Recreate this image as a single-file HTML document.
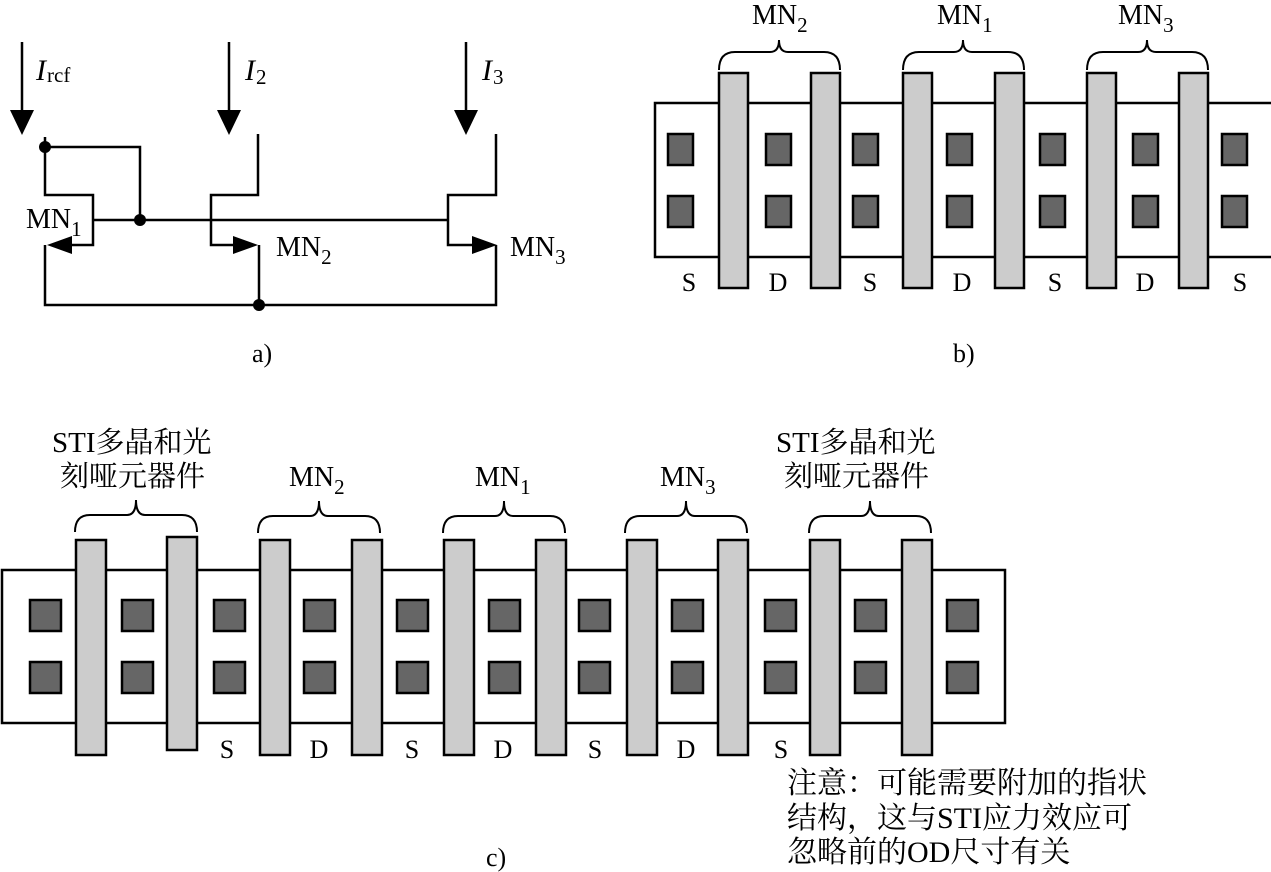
<!DOCTYPE html>
<html><head><meta charset="utf-8"><style>
html,body{margin:0;padding:0;background:#fff;width:1271px;height:872px;overflow:hidden}
text{font-family:"Liberation Serif","Noto Serif CJK SC",serif;fill:#000}
.cn{font-family:"Liberation Serif","Noto Serif CJK SC","Noto Sans CJK SC",serif}
</style></head><body>
<svg width="1271" height="872" xmlns="http://www.w3.org/2000/svg">
<g stroke="#000" stroke-width="2.5" fill="none">
<line x1="22" y1="42" x2="22" y2="110"/>
<line x1="229" y1="42" x2="229" y2="110"/>
<line x1="466" y1="42" x2="466" y2="110"/>
<polyline points="45,137 45,195 93,195 93,245 60,245"/>
<polyline points="45,147 140,147 140,220"/>
<line x1="93" y1="220" x2="448" y2="220"/>
<polyline points="45,245 45,305 496,305 496,245"/>
<polyline points="258,134 258,195 211,195 211,245 245,245"/>
<polyline points="496,134 496,195 448,195 448,245 484,245"/>
<line x1="259" y1="245" x2="259" y2="305"/>
</g>
<g fill="#000">
<polygon points="10,110 34,110 22,135"/>
<polygon points="217,110 241,110 229,135"/>
<polygon points="454,110 478,110 466,135"/>
<polygon points="47,245 72,236 72,254"/>
<polygon points="258,245 233,236 233,254"/>
<polygon points="497,245 472,236 472,254"/>
<circle cx="45" cy="147" r="6"/>
<circle cx="140" cy="220" r="6"/>
<circle cx="259" cy="305" r="6"/>
</g>
<text x="36" y="80" font-size="30" font-style="italic">I</text><text x="47" y="82" font-size="21">rcf</text>
<text x="245" y="80" font-size="30" font-style="italic">I</text><text x="256" y="84" font-size="21">2</text>
<text x="482" y="80" font-size="30" font-style="italic">I</text><text x="493" y="84" font-size="21">3</text>
<text x="26" y="228" font-size="28">MN<tspan font-size="21" dy="8">1</tspan></text>
<text x="276" y="256" font-size="28">MN<tspan font-size="21" dy="8">2</tspan></text>
<text x="510" y="256" font-size="28">MN<tspan font-size="21" dy="8">3</tspan></text>
<text x="252" y="362" font-size="26">a)</text>

<!-- part b -->
<rect x="655" y="103" width="620" height="154" fill="#fff" stroke="#000" stroke-width="2.5"/>
<g fill="#cccccc" stroke="#000" stroke-width="2.5">
<rect x="719" y="73" width="29" height="215"/><rect x="811" y="73" width="29" height="215"/>
<rect x="903" y="73" width="29" height="215"/><rect x="995" y="73" width="29" height="215"/>
<rect x="1087" y="73" width="29" height="215"/><rect x="1179" y="73" width="29" height="215"/>
</g>
<g fill="#666" stroke="#000" stroke-width="2.5">
<rect x="668" y="134" width="25" height="31"/><rect x="668" y="196" width="25" height="31"/>
<rect x="766" y="134" width="25" height="31"/><rect x="766" y="196" width="25" height="31"/>
<rect x="853" y="134" width="25" height="31"/><rect x="853" y="196" width="25" height="31"/>
<rect x="947" y="134" width="25" height="31"/><rect x="947" y="196" width="25" height="31"/>
<rect x="1040" y="134" width="25" height="31"/><rect x="1040" y="196" width="25" height="31"/>
<rect x="1133" y="134" width="25" height="31"/><rect x="1133" y="196" width="25" height="31"/>
<rect x="1222" y="134" width="25" height="31"/><rect x="1222" y="196" width="25" height="31"/>
</g>
<g stroke="#000" stroke-width="2" fill="none">
<path d="M719,70 Q719,52 735,52 L770,52 Q779,52 779,40 Q779,52 788,52 L824,52 Q840,52 840,70"/>
<path d="M903,70 Q903,52 919,52 L954,52 Q963,52 963,40 Q963,52 972,52 L1008,52 Q1024,52 1024,70"/>
<path d="M1087,70 Q1087,52 1103,52 L1138,52 Q1147,52 1147,40 Q1147,52 1156,52 L1192,52 Q1208,52 1208,70"/>
</g>
<text x="752" y="24" font-size="28">MN<tspan font-size="21" dy="8">2</tspan></text>
<text x="937" y="24" font-size="28">MN<tspan font-size="21" dy="8">1</tspan></text>
<text x="1118" y="24" font-size="28">MN<tspan font-size="21" dy="8">3</tspan></text>
<g font-size="26" text-anchor="middle">
<text x="689" y="291">S</text><text x="778" y="291">D</text><text x="870" y="291">S</text>
<text x="962" y="291">D</text><text x="1055" y="291">S</text><text x="1145" y="291">D</text><text x="1240" y="291">S</text>
</g>
<text x="953" y="362" font-size="26">b)</text>

<!-- part c -->
<rect x="2" y="570" width="1003" height="153" fill="#fff" stroke="#000" stroke-width="2.5"/>
<g fill="#cccccc" stroke="#000" stroke-width="2.5">
<rect x="76" y="540" width="30" height="215"/><rect x="167" y="537" width="30" height="213"/>
<rect x="260" y="540" width="30" height="215"/><rect x="352" y="540" width="30" height="215"/>
<rect x="444" y="540" width="30" height="215"/><rect x="536" y="540" width="30" height="215"/>
<rect x="627" y="540" width="30" height="215"/><rect x="718" y="540" width="30" height="215"/>
<rect x="810" y="540" width="30" height="215"/><rect x="902" y="540" width="30" height="215"/>
</g>
<g fill="#666" stroke="#000" stroke-width="2.5">
<rect x="30" y="600" width="31" height="31"/><rect x="30" y="662" width="31" height="31"/>
<rect x="122" y="600" width="31" height="31"/><rect x="122" y="662" width="31" height="31"/>
<rect x="214" y="600" width="31" height="31"/><rect x="214" y="662" width="31" height="31"/>
<rect x="304" y="600" width="31" height="31"/><rect x="304" y="662" width="31" height="31"/>
<rect x="397" y="600" width="31" height="31"/><rect x="397" y="662" width="31" height="31"/>
<rect x="489" y="600" width="31" height="31"/><rect x="489" y="662" width="31" height="31"/>
<rect x="579" y="600" width="31" height="31"/><rect x="579" y="662" width="31" height="31"/>
<rect x="672" y="600" width="31" height="31"/><rect x="672" y="662" width="31" height="31"/>
<rect x="765" y="600" width="31" height="31"/><rect x="765" y="662" width="31" height="31"/>
<rect x="855" y="600" width="31" height="31"/><rect x="855" y="662" width="31" height="31"/>
<rect x="947" y="600" width="31" height="31"/><rect x="947" y="662" width="31" height="31"/>
</g>
<g stroke="#000" stroke-width="2" fill="none">
<path d="M75,532 Q75,515 90,515 L127,515 Q136,515 136,500 Q136,515 145,515 L182,515 Q197,515 197,532"/>
<path d="M258,533 Q258,516 273,516 L310,516 Q319,516 319,501 Q319,516 328,516 L365,516 Q380,516 380,533"/>
<path d="M443,533 Q443,516 458,516 L495,516 Q504,516 504,501 Q504,516 513,516 L550,516 Q565,516 565,533"/>
<path d="M625,533 Q625,516 640,516 L677,516 Q686,516 686,501 Q686,516 695,516 L732,516 Q747,516 747,533"/>
<path d="M809,533 Q809,516 824,516 L861,516 Q870,516 870,501 Q870,516 879,516 L916,516 Q931,516 931,533"/>
</g>
<text class="cn" x="52" y="452" font-size="29">STI多晶和光</text>
<text class="cn" x="60" y="486" font-size="29">刻哑元器件</text>
<text class="cn" x="776" y="452" font-size="29">STI多晶和光</text>
<text class="cn" x="784" y="486" font-size="29">刻哑元器件</text>
<text x="289" y="486" font-size="28">MN<tspan font-size="21" dy="8">2</tspan></text>
<text x="475" y="486" font-size="28">MN<tspan font-size="21" dy="8">1</tspan></text>
<text x="660" y="486" font-size="28">MN<tspan font-size="21" dy="8">3</tspan></text>
<g font-size="26" text-anchor="middle">
<text x="227" y="758">S</text><text x="319" y="758">D</text><text x="412" y="758">S</text>
<text x="503" y="758">D</text><text x="595" y="758">S</text><text x="686" y="758">D</text><text x="781" y="758">S</text>
</g>
<text class="cn" x="787" y="793" font-size="30">注意：可能需要附加的指状</text>
<text class="cn" x="787" y="828" font-size="30">结构，这与STI应力效应可</text>
<text class="cn" x="787" y="862" font-size="30">忽略前的OD尺寸有关</text>
<text x="486" y="866" font-size="26">c)</text>
</svg>
</body></html>
